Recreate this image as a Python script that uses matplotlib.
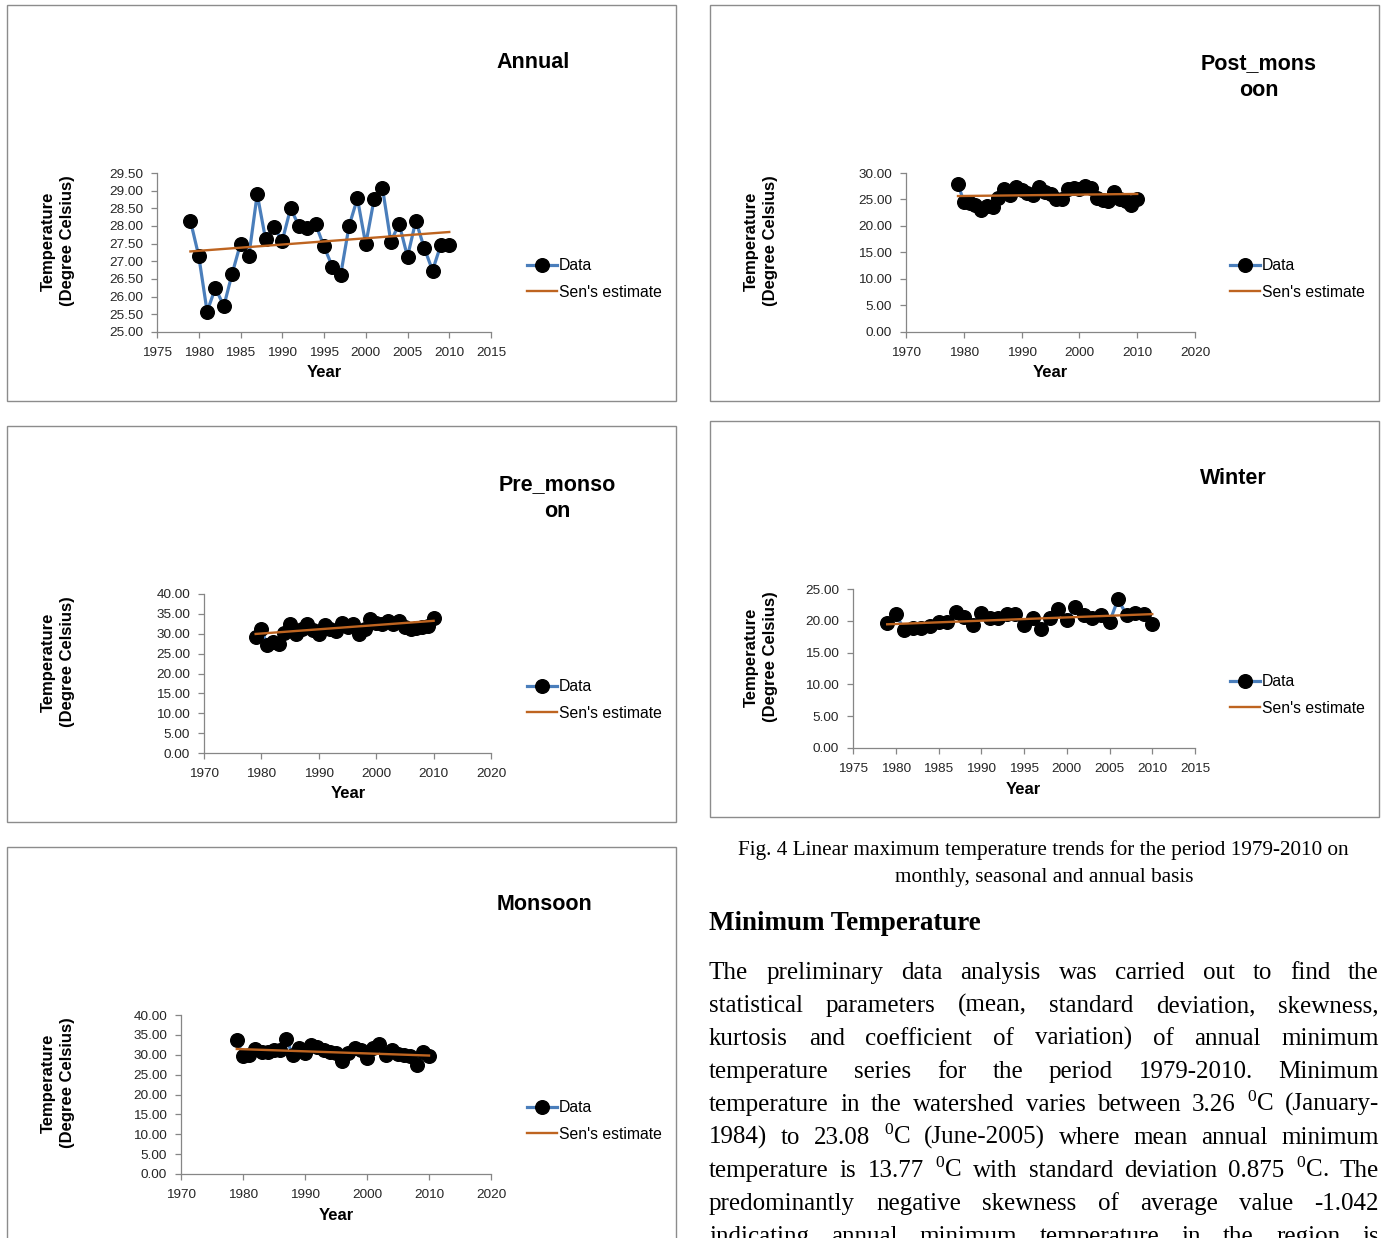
import matplotlib
matplotlib.use("Agg")
import numpy as np
import matplotlib.pyplot as plt
from matplotlib.patches import Rectangle

plt.rcParams["font.family"] = ["Liberation Sans", "DejaVu Sans"]
plt.rcParams["mathtext.fontset"] = "custom"
plt.rcParams["mathtext.rm"] = "Liberation Serif"
plt.rcParams["mathtext.it"] = "Liberation Serif:italic"
plt.rcParams["mathtext.bf"] = "Liberation Serif:bold"

# ---------------------------------------------------------------- data
years = list(range(1979, 2011))

annual = [28.15, 27.15, 25.58, 26.25, 25.73, 26.65, 27.50, 27.15, 28.90, 27.63,
          27.97, 27.58, 28.50, 28.00, 27.95, 28.05, 27.42, 26.85, 26.62, 28.00,
          28.78, 27.48, 28.76, 29.08, 27.56, 28.06, 27.13, 28.15, 27.38, 26.74,
          27.47, 27.47]
annual_sen = [27.28, 27.83]

post_monsoon = [27.9, 24.6, 24.3, 24.0, 23.0, 23.8, 23.5, 25.3, 27.0, 25.8,
                27.3, 26.7, 26.2, 25.8, 27.3, 26.5, 26.1, 25.0, 25.1, 27.0,
                27.2, 27.0, 27.5, 27.1, 25.3, 24.9, 24.7, 26.4, 25.1, 24.8,
                23.9, 25.1]
post_monsoon_sen = [25.65, 26.05]

pre_monsoon = [29.3, 31.2, 27.2, 27.8, 27.3, 30.1, 32.4, 29.9, 31.2, 32.4,
               31.0, 29.9, 32.2, 31.2, 30.6, 32.6, 31.6, 32.4, 29.9, 31.3,
               33.6, 32.7, 32.4, 33.1, 32.4, 33.2, 31.8, 31.3, 31.4, 31.6,
               32.0, 33.9]
pre_monsoon_sen = [29.95, 33.25]

winter = [19.6, 21.1, 18.55, 18.8, 18.8, 19.2, 19.8, 19.8, 21.4, 20.6,
          19.4, 21.3, 20.4, 20.5, 21.1, 21.1, 19.3, 20.4, 18.7, 20.4,
          21.8, 20.1, 22.1, 20.9, 20.5, 20.9, 19.8, 23.4, 20.9, 21.2,
          21.1, 19.5]
winter_sen = [19.45, 21.05]

monsoon = [33.7, 29.6, 29.9, 31.4, 30.8, 30.8, 31.2, 31.2, 34.0, 29.9,
           31.8, 30.4, 32.5, 31.9, 31.2, 30.6, 30.4, 28.5, 30.5, 31.6,
           31.3, 29.3, 31.7, 32.6, 29.9, 31.2, 30.2, 30.0, 29.8, 27.5,
           30.6, 29.6]
monsoon_sen = [31.45, 29.8]

series_labels = ["Data", "Sen's estimate"]

caption_lines = ["Fig. 4 Linear maximum temperature trends for the period 1979-2010 on",
                 "monthly, seasonal and annual basis"]
heading = "Minimum Temperature"
DEG = "$^{0}$C"
body_lines = [
    "The preliminary data analysis was carried out to find the",
    "statistical parameters (mean, standard deviation, skewness,",
    "kurtosis and coefficient of variation) of annual minimum",
    "temperature series for the period 1979-2010. Minimum",
    "temperature in the watershed varies between 3.26 {d} (January-",
    "1984) to 23.08 {d} (June-2005) where mean annual minimum",
    "temperature is 13.77 {d} with standard deviation 0.875 {d}. The",
    "predominantly negative skewness of average value -1.042",
    "indicating annual minimum temperature in the region is",
]

# ---------------------------------------------------------------- figure
W, H = 1385, 1238
fig = plt.figure(figsize=(W / 100, H / 100), dpi=100)


def fx(px):
    return px / W


def fy(py):
    return 1 - py / H


BLUE = "#4A7EBB"
SEN = "#BE6420"
AXIS = "#868686"
FRAME = "#8C8C8C"
TXT = "#262626"


def draw_panel(frame, box, xlim, xstep, ylim, ystep, values, sen, title,
               title_c, ylab_c, year_c, leg_c):
    x0, y0, x1, y1 = frame
    fig.patches.append(Rectangle((fx(x0), fy(y1)), (x1 - x0) / W, (y1 - y0) / H,
                                 transform=fig.transFigure, fill=False,
                                 edgecolor=FRAME, lw=1.0))
    L, T, R, B = box
    ax = fig.add_axes([fx(L), fy(B), (R - L) / W, (B - T) / H])
    ax.patch.set_alpha(0)
    data_line, = ax.plot(years, values, color=BLUE, lw=2.3, marker="o", ms=9.8,
                         mfc="black", mec="black", zorder=3)
    sen_line, = ax.plot([years[0], years[-1]], sen, color=SEN, lw=1.7, zorder=4)
    ax.set_xlim(*xlim)
    ax.set_ylim(*ylim)
    ax.set_xticks(np.arange(xlim[0], xlim[1] + 0.01, xstep))
    ax.set_yticks(np.arange(ylim[0], ylim[1] + 1e-6, ystep))
    ax.yaxis.set_major_formatter("{x:.2f}")
    ax.xaxis.set_major_formatter("{x:.0f}")
    for s in ("top", "right"):
        ax.spines[s].set_visible(False)
    for s in ("left", "bottom"):
        ax.spines[s].set_color(AXIS)
        ax.spines[s].set_linewidth(0.9)
    ax.tick_params(direction="out", length=4, width=0.9, color=AXIS,
                   labelsize=9.7, labelcolor=TXT)
    ax.tick_params(axis="x", pad=7)
    ax.tick_params(axis="y", pad=6)

    fig.text(fx(title_c[0]), fy(title_c[1]), title, ha="center", va="center",
             fontsize=15.5, fontweight="bold", color="black", linespacing=1.38)
    fig.text(fx(ylab_c[0]), fy(ylab_c[1]), "Temperature\n(Degree Celsius)",
             rotation=90, ha="center", va="center", multialignment="center",
             fontsize=12, fontweight="bold", color="black", linespacing=1.3)
    fig.text(fx(year_c[0]), fy(year_c[1]), "Year", ha="center", va="center",
             fontsize=12, fontweight="bold", color="black")
    ax.legend([data_line, sen_line], series_labels, loc="center left",
              bbox_to_anchor=(fx(leg_c[0]), fy(leg_c[1])),
              bbox_transform=fig.transFigure, frameon=False, numpoints=1,
              prop={"size": 11.3}, handlelength=1.9, handletextpad=0.15,
              labelspacing=0.72, borderpad=0, borderaxespad=0)
    return ax


draw_panel((7, 5, 676, 401), (157, 173, 491, 332), (1975, 2015), 5,
           (25, 29.5), 0.5, annual, annual_sen, "Annual",
           (533, 63), (58, 241), (324, 373), (527, 279))
draw_panel((710, 5, 1379, 401), (906, 173, 1195, 332), (1970, 2020), 10,
           (0, 30), 5, post_monsoon, post_monsoon_sen, "Post_mons\noon",
           (1259, 77), (761, 241), (1050, 373), (1230, 279))
draw_panel((7, 426, 676, 822), (204, 594, 491, 753), (1970, 2020), 10,
           (0, 40), 5, pre_monsoon, pre_monsoon_sen, "Pre_monso\non",
           (557, 498), (58, 662), (348, 794), (527, 700))
draw_panel((710, 421, 1379, 817), (853, 589, 1195, 748), (1975, 2015), 5,
           (0, 25), 5, winter, winter_sen, "Winter",
           (1233, 479), (761, 657), (1023, 789), (1230, 695))
draw_panel((7, 847, 676, 1260), (181, 1015, 491, 1174), (1970, 2020), 10,
           (0, 40), 5, monsoon, monsoon_sen, "Monsoon",
           (545, 905), (58, 1083), (336, 1215), (527, 1121))

# ---------------------------------------------------------------- text block
SERIF = ["Liberation Serif", "DejaVu Serif"]
fig.canvas.draw()
rend = fig.canvas.get_renderer()


def width_of(t):
    return t.get_window_extent(rend).width


def fitted_text(x, y, s, target_w, size0, ha="left", **kw):
    t = fig.text(fx(x), fy(y), s, ha=ha, va="baseline", fontsize=size0,
                 family=SERIF, color="black", **kw)
    w = width_of(t)
    t.set_fontsize(size0 * target_w / w)
    return t


# caption
cap = fitted_text(1043.5, 855, caption_lines[0], 613, 15, ha="center")
cap_size = cap.get_fontsize()
fig.text(fx(1044), fy(882), caption_lines[1], ha="center", va="baseline",
         fontsize=cap_size, family=SERIF, color="black")

# heading
fitted_text(709, 930, heading, 271, 18, fontweight="bold")

# justified paragraph
BODY_L, BODY_R = 709, 1379
lines = [ln.replace("{d}", DEG) for ln in body_lines]
probe = [fig.text(0, 0, ln, fontsize=18, family=SERIF) for ln in lines]
natural = max(width_of(p) for p in probe)
for p in probe:
    p.remove()
body_size = min(18.0, 18.0 * (BODY_R - BODY_L) / natural)

for i, ln in enumerate(lines):
    base = 979 + 33 * i
    words = ln.split(" ")
    texts = [fig.text(0, fy(base), w, fontsize=body_size, family=SERIF,
                      color="black", va="baseline", ha="left") for w in words]
    widths = [width_of(t) for t in texts]
    gap = (BODY_R - BODY_L - sum(widths)) / (len(words) - 1)
    x = BODY_L
    for t, w in zip(texts, widths):
        t.set_x(fx(x))
        x += w + gap

fig.savefig("out.png", dpi=100)
